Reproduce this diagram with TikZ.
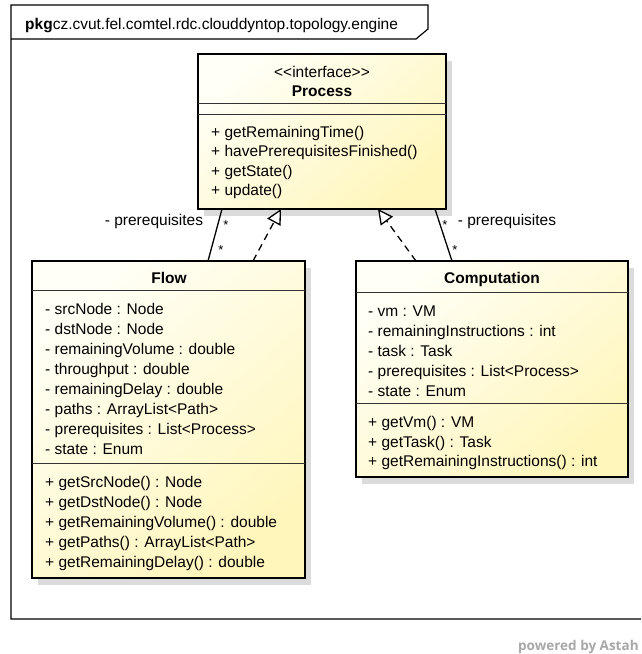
\documentclass[tikz,border=0pt]{standalone}
\usepackage{fontspec}
\setmainfont{Liberation Sans}
\newfontfamily\astahfont{Open Sans}
\usetikzlibrary{arrows.meta,shadows,backgrounds}
\definecolor{boxA}{HTML}{FFFFF6}
\definecolor{boxB}{HTML}{FFF6BC}
\definecolor{wm}{HTML}{A8A8A8}
\begin{document}
\begin{tikzpicture}[x=1pt,y=-1pt,
  umlbox/.style={draw=black, line width=2.4pt, inner sep=0pt, outer sep=0pt, anchor=north west,
    left color=boxA, right color=boxB, shading angle=40,
    drop shadow={shadow xshift=6pt, shadow yshift=-7pt, opacity=1, fill=black!14, draw=none}},
  txt/.style={anchor=base west, inner sep=0pt, font=\fontsize{15.5}{18}\selectfont},
  ttl/.style={anchor=base, inner sep=0pt, font=\fontsize{15.5}{18}\selectfont\bfseries},
  mult/.style={anchor=base, inner sep=0pt, font=\fontsize{13}{15}\selectfont},
  sepline/.style={line width=1pt, black!80},
  conn/.style={line width=1.3pt},
  real/.style={conn, dash pattern=on 7pt off 5pt, -{Triangle[open, fill=white, length=15pt, width=15pt]}},
  shd/.style={line width=1.3pt, black!13},
  shdreal/.style={shd, -{Triangle[open, length=15pt, width=15pt]}}
]
\useasboundingbox (0,0) rectangle (641,654);
\fill[white] (0,0) rectangle (641,654);

% package frame
\draw[line width=1.2pt] (641,619) -- (11,619) -- (11,5) -- (428,5) -- (428,29) -- (416,39) -- (11,39);
\node[anchor=base west, inner sep=0pt, font=\fontsize{15.5}{18}\selectfont] (pkg) at (25,29)
  {\textbf{pkg}cz.cvut.fel.comtel.rdc.clouddyntop.topology.engine};

% Process
\node[umlbox, minimum width=248pt, minimum height=155pt] (process) at (198,54) {};
\draw[sepline] (process.west |- 0,103) -- (process.east |- 0,103);
\draw[sepline] (process.west |- 0,114) -- (process.east |- 0,114);
\node[txt, anchor=base] (pst) at (322,77) {<\kern0pt<interface>\kern0pt>};
\node[ttl] (pname) at (322,96.5) {Process};
\node[txt] (pm1) at (211,137) {+ getRemainingTime()};
\node[txt] (pm2) at (211,156.5) {+ havePrerequisitesFinished()};
\node[txt] (pm3) at (211,176) {+ getState()};
\node[txt] (pm4) at (211,195.5) {+ update()};

% Flow
\node[umlbox, minimum width=273pt, minimum height=317pt] (flow) at (32,261) {};
\draw[sepline] (flow.west |- 0,290) -- (flow.east |- 0,290);
\draw[sepline] (flow.west |- 0,463) -- (flow.east |- 0,463);
\node[ttl] (fname) at (169,283.5) {Flow};
\node[txt] (fa1) at (45,314) {- srcNode : Node};
\node[txt] (fa2) at (45,334) {- dstNode : Node};
\node[txt] (fa3) at (45,354) {- remainingVolume : double};
\node[txt] (fa4) at (45,374) {- throughput : double};
\node[txt] (fa5) at (45,394) {- remainingDelay : double};
\node[txt] (fa6) at (45,414) {- paths : ArrayList<Path>};
\node[txt] (fa7) at (45,434) {- prerequisites : List<Process>};
\node[txt] (fa8) at (45,454.5) {- state : Enum};
\node[txt] (fm1) at (45,487.5) {+ getSrcNode() : Node};
\node[txt] (fm2) at (45,507.5) {+ getDstNode() : Node};
\node[txt] (fm3) at (45,527.5) {+ getRemainingVolume() : double};
\node[txt] (fm4) at (45,547.5) {+ getPaths() : ArrayList<Path>};
\node[txt] (fm5) at (45,567.5) {+ getRemainingDelay() : double};

% Computation
\node[umlbox, minimum width=272pt, minimum height=216pt] (comp) at (356,261) {};
\draw[sepline] (comp.west |- 0,292) -- (comp.east |- 0,292);
\draw[sepline] (comp.west |- 0,403) -- (comp.east |- 0,403);
\node[ttl] (cname) at (492,283.5) {Computation};
\node[txt] (ca1) at (368,316) {- vm : VM};
\node[txt] (ca2) at (368,336) {- remainingInstructions : int};
\node[txt] (ca3) at (368,356) {- task : Task};
\node[txt] (ca4) at (368,376) {- prerequisites : List<Process>};
\node[txt] (ca5) at (368,396.5) {- state : Enum};
\node[txt] (cm1) at (368,427) {+ getVm() : VM};
\node[txt] (cm2) at (368,447) {+ getTask() : Task};
\node[txt] (cm3) at (368,466.5) {+ getRemainingInstructions() : int};

% connector shadows
\begin{scope}[on background layer, xshift=6pt, yshift=-5pt]
  \draw[shd] (process.south -| 222,0) -- (flow.north -| 208,0);
  \draw[shdreal] (flow.north -| 253,0) -- (process.south -| 281,0);
  \draw[shdreal] (comp.north -| 416,0) -- (process.south -| 378,0);
  \draw[shd] (process.south -| 435,0) -- (comp.north -| 452,0);
\end{scope}

% connectors
\draw[conn] (process.south -| 222,0) -- (flow.north -| 208,0);
\draw[real] (flow.north -| 253,0) -- (process.south -| 281,0);
\draw[real] (comp.north -| 416,0) -- (process.south -| 378,0);
\draw[conn] (process.south -| 435,0) -- (comp.north -| 452,0);

% association labels
\node[txt, anchor=base] (lp1) at (154,225.5) {- prerequisites};
\node[mult] (s1) at (226,229) {*};
\node[mult] (s2) at (221,254) {*};
\node[txt, anchor=base] (lp2) at (507,225.5) {- prerequisites};
\node[mult] (s3) at (445,229) {*};
\node[mult] (s4) at (455,254) {*};

% watermark
\node[anchor=base west, inner sep=0pt, font=\astahfont\bfseries\fontsize{13.5}{16}\selectfont, text=wm] (wmk) at (518,650) {powered by Astah};
\end{tikzpicture}
\end{document}
